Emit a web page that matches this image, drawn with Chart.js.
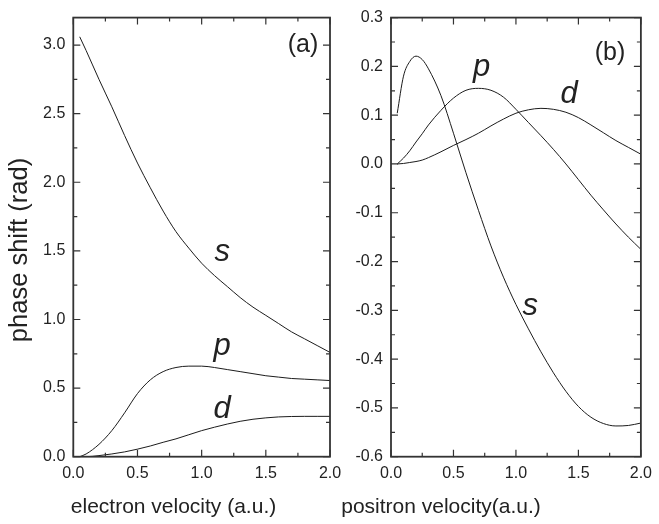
<!DOCTYPE html>
<html>
<head>
<meta charset="utf-8">
<script src="https://cdn.jsdelivr.net/npm/chart.js@4.4.0/dist/chart.umd.min.js"></script>
<style>
    html, body { margin: 0; padding: 0; background: #fff; overflow: hidden; }
    .lienzo { position: relative; width: 659px; height: 524px; }
    .lienzo canvas { position: absolute; left: 0; top: 0; }
</style>
</head>
<body>
<div class="lienzo">
    <canvas id="panelA" width="659" height="524"></canvas>
    <canvas id="panelB" width="659" height="524"></canvas>
</div>
<script>
// ==================== DATOS ====================

// (a) electron
const velElectron = [0.05, 0.1, 0.2, 0.3, 0.4, 0.5, 0.6, 0.7, 0.8, 0.9, 1.0, 1.1, 1.2, 1.3, 1.4, 1.5, 1.6, 1.7, 1.8, 1.9, 2.0];
const electronS = [3.06, 2.96, 2.75, 2.55, 2.34, 2.14, 1.96, 1.79, 1.64, 1.52, 1.41, 1.32, 1.24, 1.16, 1.09, 1.03, 0.97, 0.91, 0.86, 0.81, 0.76];
const electronP = [0.0, 0.02, 0.09, 0.19, 0.32, 0.46, 0.56, 0.62, 0.65, 0.66, 0.66, 0.65, 0.635, 0.62, 0.605, 0.59, 0.58, 0.57, 0.565, 0.56, 0.555];
const electronD = [0.0, 0.0, 0.008, 0.02, 0.035, 0.055, 0.078, 0.105, 0.13, 0.16, 0.19, 0.215, 0.238, 0.258, 0.273, 0.283, 0.29, 0.293, 0.294, 0.294, 0.294];

// (b) positron
const velPositron = [0.05, 0.1, 0.15, 0.2, 0.25, 0.3, 0.4, 0.5, 0.6, 0.7, 0.8, 0.9, 1.0, 1.1, 1.2, 1.3, 1.4, 1.5, 1.6, 1.7, 1.8, 1.9, 2.0];
const positronS = [0.104, 0.18, 0.21, 0.221, 0.214, 0.195, 0.14, 0.063, -0.018, -0.095, -0.168, -0.232, -0.288, -0.338, -0.385, -0.428, -0.466, -0.497, -0.519, -0.532, -0.537, -0.536, -0.531];
const positronP = [0.0, 0.012, 0.027, 0.045, 0.062, 0.08, 0.11, 0.135, 0.151, 0.155, 0.151, 0.137, 0.112, 0.085, 0.058, 0.03, 0.0, -0.032, -0.064, -0.094, -0.123, -0.15, -0.175];
const positronD = [0.0, 0.001, 0.003, 0.005, 0.008, 0.013, 0.025, 0.038, 0.05, 0.063, 0.078, 0.092, 0.104, 0.111, 0.114, 0.112, 0.106, 0.095, 0.08, 0.064, 0.048, 0.034, 0.02];

// rangos de los ejes
const rangoX = [0, 2];
const rangoYA = [0, 3.2];
const rangoYB = [-0.6, 0.3];

// ==================== UTILIDADES ====================

const FUENTE = '"Liberation Sans", Arial, Helvetica, sans-serif';
const COLOR_TEXTO = '#222';

function esMayor(valor, paso) {
    const r = valor / paso;
    return Math.abs(r - Math.round(r)) < 1e-6;
}

function formatoTick(valor) {
    if (Math.abs(valor) < 1e-9) valor = 0;
    return valor.toFixed(1);
}

function serie(vel, vals) {
    return {
        data: vel.map((v, i) => ({ x: v, y: vals[i] })),
        borderColor: '#1c1c1c',
        borderWidth: 1,
        pointRadius: 0,
        fill: false,
        cubicInterpolationMode: 'monotone'
    };
}

// marco con marcas hacia adentro + textos
const marcoEjes = {
    id: 'marcoEjes',
    afterDatasetsDraw(chart, args, opts) {
        const { ctx, chartArea: a, scales: { x, y } } = chart;
        ctx.save();
        ctx.strokeStyle = '#333';

        ctx.lineWidth = 1.2;
        ctx.beginPath();
        x.ticks.forEach(t => {
            const px = x.getPixelForValue(t.value);
            const len = esMayor(t.value, opts.pasoX) ? 7 : 4;
            ctx.moveTo(px, a.bottom); ctx.lineTo(px, a.bottom - len);
            ctx.moveTo(px, a.top); ctx.lineTo(px, a.top + len);
        });
        y.ticks.forEach(t => {
            const py = y.getPixelForValue(t.value);
            const len = esMayor(t.value, opts.pasoY) ? 7 : 4;
            ctx.moveTo(a.left, py); ctx.lineTo(a.left + len, py);
            ctx.moveTo(a.right, py); ctx.lineTo(a.right - len, py);
        });
        ctx.stroke();

        ctx.lineWidth = 1.8;
        ctx.strokeRect(a.left, a.top, a.right - a.left, a.bottom - a.top);

        // etiquetas de curvas y panel (coordenadas de datos)
        ctx.fillStyle = COLOR_TEXTO;
        ctx.textBaseline = 'alphabetic';
        ctx.textAlign = 'center';
        (opts.etiquetas || []).forEach(e => {
            ctx.font = e.fuente;
            ctx.fillText(e.texto, x.getPixelForValue(e.x), y.getPixelForValue(e.y));
        });

        // títulos de ejes
        (opts.titulos || []).forEach(t => {
            ctx.save();
            ctx.font = t.fuente;
            ctx.translate(t.px, t.py);
            if (t.rot) ctx.rotate(t.rot);
            ctx.fillText(t.texto, 0, 0);
            ctx.restore();
        });
        ctx.restore();
    }
};

function crearPanel(canvasId, cfg) {
    const ctx = document.getElementById(canvasId);
    const fuenteTicks = { family: FUENTE, size: 16 };
    return new Chart(ctx, {
        type: 'line',
        data: { datasets: cfg.series },
        options: {
            responsive: false,
            animation: false,
            events: [],
            layout: { autoPadding: false, padding: cfg.padding },
            plugins: {
                legend: { display: false },
                tooltip: { enabled: false },
                marcoEjes: {
                    pasoX: 0.5,
                    pasoY: cfg.pasoY,
                    etiquetas: cfg.etiquetas,
                    titulos: cfg.titulos
                }
            },
            scales: {
                x: {
                    type: 'linear',
                    min: rangoX[0],
                    max: rangoX[1],
                    grid: { display: false, drawTicks: false },
                    border: { display: false },
                    ticks: {
                        stepSize: 0.25,
                        padding: 7,
                        autoSkip: false,
                        maxRotation: 0,
                        color: COLOR_TEXTO,
                        font: fuenteTicks,
                        callback: v => esMayor(v, 0.5) ? formatoTick(v) : ''
                    },
                    afterFit: s => { s.height = 40; }
                },
                y: {
                    type: 'linear',
                    min: cfg.rangoY[0],
                    max: cfg.rangoY[1],
                    grid: { display: false, drawTicks: false },
                    border: { display: false },
                    ticks: {
                        stepSize: cfg.pasoY / 2,
                        includeBounds: false,
                        padding: 8,
                        autoSkip: false,
                        color: COLOR_TEXTO,
                        font: fuenteTicks,
                        callback: v => esMayor(v, cfg.pasoY) ? formatoTick(v) : ''
                    },
                    afterFit: s => { s.width = 60; }
                }
            }
        },
        plugins: [marcoEjes]
    });
}

// ==================== PANELES ====================

const letraCurva = 'italic 31px ' + FUENTE;
const letraPanel = '25px ' + FUENTE;

crearPanel('panelA', {
    series: [serie(velElectron, electronS), serie(velElectron, electronP), serie(velElectron, electronD)],
    rangoY: rangoYA,
    pasoY: 0.5,
    padding: { left: 13.3, right: 329, top: 13.3, bottom: 27.3 },
    etiquetas: [
        { texto: 's', x: 1.16, y: 1.425, fuente: letraCurva },
        { texto: 'p', x: 1.16, y: 0.741, fuente: letraCurva },
        { texto: 'd', x: 1.16, y: 0.279, fuente: letraCurva },
        { texto: '(a)', x: 1.79, y: 2.95, fuente: letraPanel }
    ],
    titulos: [
        { texto: 'phase shift (rad)', px: 27, py: 250, rot: -Math.PI / 2, fuente: '25.5px ' + FUENTE },
        { texto: 'electron velocity (a.u.)', px: 173.5, py: 513, fuente: '21px ' + FUENTE }
    ]
});

crearPanel('panelB', {
    series: [serie(velPositron, positronS), serie(velPositron, positronP), serie(velPositron, positronD)],
    rangoY: rangoYB,
    pasoY: 0.1,
    padding: { left: 331, right: 11.3, top: 13.3, bottom: 27.3 },
    etiquetas: [
        { texto: 's', x: 1.114, y: -0.31, fuente: letraCurva },
        { texto: 'p', x: 0.725, y: 0.181, fuente: letraCurva },
        { texto: 'd', x: 1.426, y: 0.124, fuente: letraCurva },
        { texto: '(b)', x: 1.753, y: 0.214, fuente: letraPanel }
    ],
    titulos: [
        { texto: 'positron velocity(a.u.)', px: 441, py: 513, fuente: '21px ' + FUENTE }
    ]
});
</script>
</body>
</html>
